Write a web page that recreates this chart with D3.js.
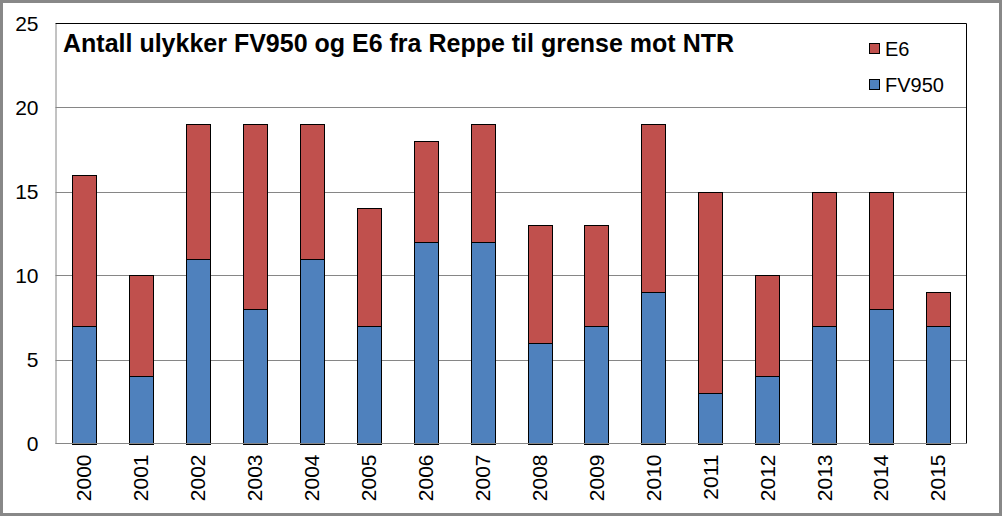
<!DOCTYPE html>
<html>
<head>
<meta charset="utf-8">
<script src="https://cdn.jsdelivr.net/npm/d3@7"></script>
<style>
  body { margin: 0; background: #fff; }
  text { font-family: "Liberation Sans", Arial, sans-serif; }
</style>
</head>
<body>
<div id="chart"></div>
<script>
  const years = ["2000", "2001", "2002", "2003", "2004", "2005", "2006", "2007",
    "2008", "2009", "2010", "2011", "2012", "2013", "2014", "2015"];
  const fv950 = [7, 4, 11, 8, 11, 7, 12, 12, 6, 7, 9, 3, 4, 7, 8, 7];
  const e6 = [9, 6, 8, 11, 8, 7, 6, 7, 7, 6, 10, 12, 6, 8, 7, 2];
  const yTicks = [0, 5, 10, 15, 20, 25];
  const seriesNames = ["FV950", "E6"];
  const colors = { FV950: "#4F81BD", E6: "#C0504D" };

  const width = 1002;
  const height = 516;
  const plot = { left: 55.5, right: 966.5, top: 23.5, bottom: 443.5 };

  const svg = d3.select("#chart").append("svg")
    .attr("width", width)
    .attr("height", height);

  // outer frame
  svg.append("rect")
    .attr("x", 1.5).attr("y", 1.5)
    .attr("width", width - 3).attr("height", height - 3)
    .style("fill", "#fff")
    .style("stroke", "#888")
    .style("stroke-width", 3);

  const x = d3.scaleBand()
    .domain(years)
    .range([plot.left, plot.right])
    .paddingInner(0.58)
    .paddingOuter(0.29);

  const y = d3.scaleLinear()
    .domain([0, 25])
    .range([plot.bottom, plot.top]);

  // gridlines
  svg.append("g")
    .selectAll("line")
    .data(yTicks.filter(d => d > 0 && d < 25))
    .enter()
    .append("line")
    .attr("x1", plot.left).attr("x2", plot.right)
    .attr("y1", d => Math.round(y(d)) + 0.5)
    .attr("y2", d => Math.round(y(d)) + 0.5)
    .style("stroke", "#868686")
    .style("stroke-width", 1);

  // plot border: top and right black
  svg.append("path")
    .attr("d", `M${plot.left},${plot.top}H${plot.right}V${plot.bottom}`)
    .style("fill", "none")
    .style("stroke", "#000")
    .style("stroke-width", 1);

  // stacked data
  const rows = years.map((yr, i) => ({ year: yr, FV950: fv950[i], E6: e6[i] }));
  const stack = d3.stack().keys(seriesNames)(rows);

  svg.append("g")
    .selectAll("g")
    .data(stack)
    .enter()
    .append("g")
    .style("fill", d => colors[d.key])
    .selectAll("rect")
    .data(d => d)
    .enter()
    .append("rect")
    .attr("x", d => Math.round(x(d.data.year)) + 0.5)
    .attr("y", d => Math.round(y(d[1])) + 0.5)
    .attr("width", Math.round(x.bandwidth()))
    .attr("height", d => Math.round(y(d[0])) - Math.round(y(d[1])))
    .style("stroke", "#000")
    .style("stroke-width", 1);

  // y axis
  const yAxis = d3.axisLeft(y).tickValues(yTicks).tickSize(0).tickPadding(17);
  const yg = svg.append("g")
    .attr("transform", `translate(${plot.left},0)`)
    .call(yAxis);
  yg.select(".domain").style("stroke", "#868686");
  yg.selectAll("text")
    .style("font-size", "21px")
    .style("fill", "#000")
    .attr("dy", "0.35em");

  // x axis
  const xAxis = d3.axisBottom(x).tickSize(0).tickPadding(0);
  const xg = svg.append("g")
    .attr("transform", `translate(0,${plot.bottom})`)
    .call(xAxis);
  xg.select(".domain").attr("d", `M${plot.left},0H${plot.right}`).style("stroke", "#868686");
  xg.selectAll("text")
    .style("font-size", "21px")
    .style("fill", "#000")
    .attr("transform", "rotate(-90)")
    .attr("text-anchor", "end")
    .attr("x", -11)
    .attr("y", 0)
    .attr("dy", "0.35em");

  // title
  svg.append("text")
    .attr("x", 63)
    .attr("y", 52)
    .text("Antall ulykker FV950 og E6 fra Reppe til grense mot NTR")
    .style("font-size", "25px")
    .style("font-weight", "bold")
    .style("fill", "#000");

  // legend
  const legendItems = ["E6", "FV950"];
  const lg = svg.append("g");
  legendItems.forEach((name, i) => {
    const ly = 49 + i * 36;
    lg.append("rect")
      .attr("x", 869.5).attr("y", ly - 5.5)
      .attr("width", 10).attr("height", 10)
      .style("fill", colors[name])
      .style("stroke", "#000")
      .style("stroke-width", 1);
    lg.append("text")
      .attr("x", 885).attr("y", ly)
      .attr("dy", "0.35em")
      .text(name)
      .style("font-size", "20px")
      .style("fill", "#000");
  });
</script>
</body>
</html>
